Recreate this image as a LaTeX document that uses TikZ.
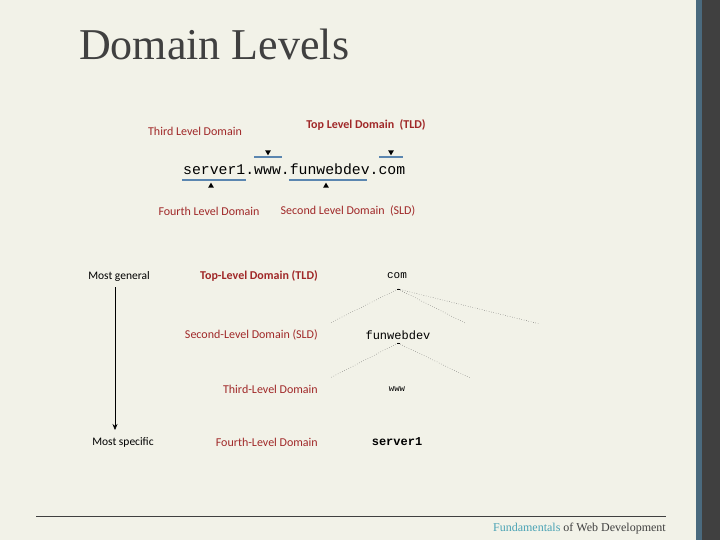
\documentclass[tikz,border=0pt]{standalone}
\usepackage{fontspec}
\setmainfont{Liberation Serif}
\newfontfamily\calfont{Carlito}
\newfontfamily\monofont{Liberation Mono}
\definecolor{bg}{HTML}{F2F2E8}
\definecolor{lab}{HTML}{A02828}
\definecolor{ul}{HTML}{5B86B0}
\definecolor{teal}{HTML}{4AA3B5}
\definecolor{strip}{HTML}{4A6A7E}
\definecolor{dark}{HTML}{404040}
\usetikzlibrary{shapes.geometric,arrows.meta}
\tikzset{lbl/.style={font=\calfont\fontsize{12}{14}\selectfont,text=lab,inner sep=0pt},
 gen/.style={font=\calfont\fontsize{11.5}{13}\selectfont,inner sep=0pt},
 dom/.style={font=\monofont\fontsize{11}{13}\selectfont,inner sep=0pt},
 uline/.style={ul,line width=1.5pt},
 tri/.style={fill=black,isosceles triangle,isosceles triangle apex angle=60,inner sep=0pt,minimum size=5pt},
 dot/.style={dotted,thin,black!80}}
\begin{document}
\begin{tikzpicture}[x=1pt,y=-1pt]
\fill[bg] (0,0) rectangle (720,540);
\useasboundingbox (0,0) rectangle (720,540);
\fill[strip] (696,0) rectangle (702,540);
\fill[dark] (702,0) rectangle (720,540);
\node[anchor=west,text=dark,font=\fontsize{44}{48}\selectfont,inner sep=0pt] (title) at (79,44) {Domain Levels};
% top part
\node[lbl] (third) at (195,131) {Third Level Domain};
\node[lbl,font=\calfont\bfseries\fontsize{12}{14}\selectfont] (tld) at (366,125) {Top Level Domain\ \ (TLD)};
\node[font=\monofont\fontsize{14.8}{16}\selectfont,inner sep=0pt,anchor=west] (url) at (183,169) {server1.www.funwebdev.com};
\draw[uline] (182,180) coordinate (a1) -- (246,180) coordinate (a2);
\draw[uline] (289,180) coordinate (b1) -- (367,180) coordinate (b2);
\draw[uline] (254,157) coordinate (c1) -- (282,157) coordinate (c2);
\draw[uline] (379,157) coordinate (d1) -- (403,157) coordinate (d2);
\node[tri,shape border rotate=-90] (t1) at (268,152) {};
\node[tri,shape border rotate=-90] (t2) at (391,152) {};
\node[tri,shape border rotate=90] (t3) at (211,186) {};
\node[tri,shape border rotate=90] (t4) at (326,186) {};
\node[lbl] (fourth) at (209,211) {Fourth Level Domain};
\node[lbl] (second) at (348,211) {Second Level Domain\ \ (SLD)};
% bottom part
\node[gen] (mg) at (119,276) {Most general};
\node[gen] (ms) at (123,442) {Most specific};
\draw[-{Stealth[length=6pt,width=5pt]},semithick] (115,287) coordinate (ar1) -- (115,430) coordinate (ar2);
\node[lbl,anchor=east,font=\calfont\bfseries\fontsize{12}{14}\selectfont] (l1) at (318,276) {Top-Level Domain (TLD)};
\node[lbl,anchor=east] (l2) at (318,335) {Second-Level Domain (SLD)};
\node[lbl,anchor=east] (l3) at (318,389) {Third-Level Domain};
\node[lbl,anchor=east] (l4) at (318,442) {Fourth-Level Domain};
\node[dom] (com) at (397,276) {com};
\node[dom,font=\monofont\fontsize{12}{14}\selectfont] (fwd) at (398,335) {funwebdev};
\node[dom,font=\monofont\fontsize{9}{11}\selectfont] (www) at (397,389) {www};
\node[dom,font=\monofont\bfseries\fontsize{12}{14}\selectfont] (srv) at (397,442) {server1};
\coordinate (p1) at (398,289);
\coordinate (p2) at (398,343);
\draw[thick] (397,289) -- (400,289);
\draw[thick] (397,343) -- (400,343);
\draw[dot] (p1) -- (330,323);
\draw[dot] (p1) -- (465,323);
\draw[dot] (p1) -- (540,324);
\draw[dot] (p2) -- (330,378);
\draw[dot] (p2) -- (470,378);
% footer
\draw[dark,semithick] (36,516) coordinate (f1) -- (666,516) coordinate (f2);
\node[anchor=east,inner sep=0pt,font=\fontsize{12}{14}\selectfont,text=dark] (foot) at (666,529) {\textcolor{teal}{Fundamentals} of Web Development};
\end{tikzpicture}
\end{document}
